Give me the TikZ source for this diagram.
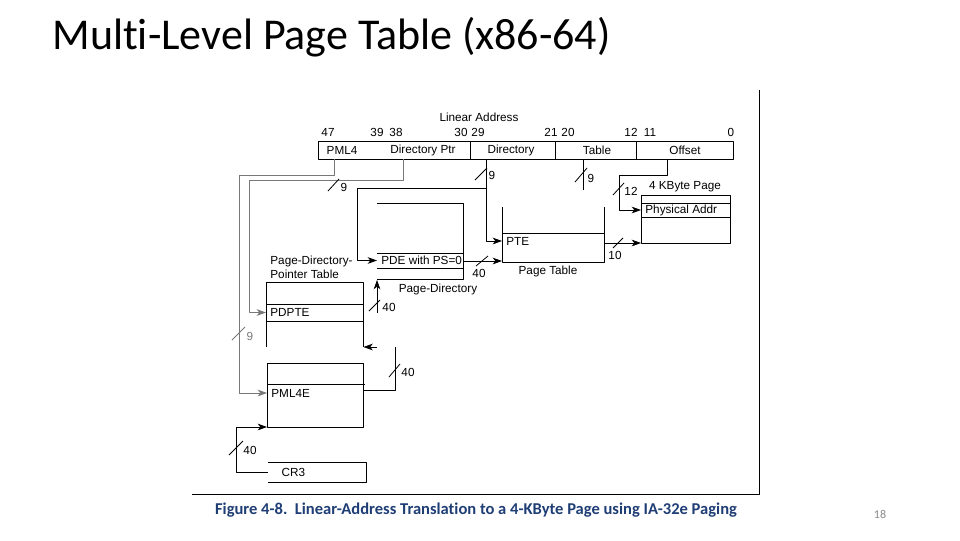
\documentclass[tikz,border=0pt]{standalone}
\usepackage{fontspec}
\setmainfont{Liberation Sans}
\newfontfamily\slidefont[Ligatures={NoCommon}]{Carlito}
\usetikzlibrary{arrows.meta}
\definecolor{capblue}{RGB}{31,62,117}
\definecolor{numgray}{RGB}{137,137,137}
\definecolor{wire}{RGB}{120,120,120}
\tikzset{
	ptr/.style={-{Stealth[length=7pt,width=5pt,inset=2pt]}},
	entry/.style={anchor=west, inner xsep=3pt, inner ysep=0pt},
	wlabel/.style={inner sep=0pt},
}
\begin{document}
\begin{tikzpicture}[x=0.75pt, y=-0.75pt, line width=0.6pt, font=\fontsize{8.8}{10}\selectfont, line join=round]
	\useasboundingbox (0,0) rectangle (960,540);
	% slide text
	\node[anchor=base west, inner sep=0pt, font=\slidefont\fontsize{33}{39}\selectfont] (title) at (52,49) {Multi-Level Page Table (x86-64)};
	\node[anchor=base, inner sep=0pt, text=capblue, font=\slidefont\bfseries\fontsize{12.4}{14}\selectfont] (caption) at (476,514) {Figure 4-8.\ \ Linear-Address Translation to a 4-KByte Page using IA-32e Paging};
	\node[anchor=base, inner sep=0pt, text=numgray, font=\slidefont\fontsize{9}{10}\selectfont] (pnum) at (880,518) {18};
	% frame of the figure
	\draw (192,494) -- (759,494) -- (759,90);
	% linear address
	\node (linaddr) at (479,117) {Linear Address};
	\foreach \b/\x in {47/328, 39/377, 38/396, 30/461, 29/478, 21/551, 20/568, 12/631, 11/650, 0/731}
		\node[inner sep=0pt] (b\b) at (\x,132) {\b};
	\draw (318,141) rectangle (733,159);
	\draw (470,141) -- (470,159) (555,141) -- (555,159) (636,141) -- (636,159);
	\node (pml4) at (342,150) {PML4};
	\node (dirptr) at (423,150) {Directory Ptr};
	\node (dir) at (511,150) {Directory};
	\node (tbl) at (597,150) {Table};
	\node (ofs) at (685,150) {Offset};
	\coordinate (tapA) at (334,159);
	\coordinate (tapB) at (403,159);
	\coordinate (tapC) at (486,159);
	\coordinate (tapD) at (583,159);
	\coordinate (tapE) at (667,159);
	% 4 KByte page
	\node (pglbl) at (685,187) {4 KByte Page};
	\draw (641,195) rectangle (730,243);
	\draw (641,203) -- (730,203) (641,217) -- (730,217);
	\node[entry] (phys) at (641,210) {Physical Addr};
	% page table
	\draw (502,207) -- (502,262) -- (604,262) -- (604,207);
	\draw (502,233) -- (604,233);
	\node[entry] (pte) at (502,241) {PTE};
	\node (ptlbl) at (548,271) {Page Table};
	% page directory
	\draw (377,203) -- (463,203) -- (463,279) -- (377,279);
	\draw (377,253) -- (463,253) (377,268) -- (463,268);
	\node[entry] (pde) at (377,260.5) {PDE with PS=0};
	\node (pdlbl) at (438,289) {Page-Directory};
	% page-directory-pointer table
	\node[anchor=west, align=left, inner xsep=3pt, inner ysep=0pt, font=\fontsize{8.8}{10.5}\selectfont] (pdptlbl) at (266,267) {Page-Directory-\\Pointer Table};
	\draw (266,347) -- (266,282) -- (363,282) -- (363,347);
	\draw (266,304) -- (363,304) (266,321) -- (363,321);
	\node[entry] (pdpte) at (266,312.5) {PDPTE};
	% PML4 table
	\draw (267,363) rectangle (363,427);
	\draw (267,384) -- (365,384);
	\node[entry] (pml4e) at (267,393) {PML4E};
	% CR3
	\draw (268,462) -- (366,462) -- (366,482) -- (268,482);
	\node[entry, inner xsep=10pt] (cr3) at (268,472.5) {CR3};
	% connectors
	\draw[ptr, wire] (tapA) -- (334,175) -- (239,175) -- (239,393) -- (pml4e.west);
	\draw[ptr, wire] (tapB) -- (403,180) -- (249,180) -- (249,312.5) -- (pdpte.west);
	\draw[ptr] (tapC) -- (486,241) -- (pte.west);
	\draw[ptr] (486,188) -- (357,188) -- (357,260.5) -- (pde.west);
	\draw (tapD) -- (583,190);
	\draw[ptr] (tapE) -- (667,175) -- (619,175) -- (619,210) -- (phys.west);
	\draw[ptr] (463,261) -- (502,261);
	\draw[ptr] (604,243) -- (641,243);
	\draw[ptr] (377,313) -- (377,280);
	\draw (363,390) -- (395,390) -- (395,347);
	\draw[ptr] (377,347) -- (363.5,347);
	\draw[ptr] (cr3.west) -- (236,472.5) -- (236,427) -- (267,427);
	% width marks
	\draw (328,191) -- (339,179);
	\node[wlabel] (w1) at (344,187) {9};
	\draw[wire] (232,340) -- (245,327);
	\node[wlabel, text=wire] (w2) at (250,336) {9};
	\draw (475,180) -- (487,168);
	\node[wlabel] (w3) at (492,175) {9};
	\draw (575,182) -- (587,168);
	\node[wlabel] (w4) at (591,178) {9};
	\draw (613,195) -- (624,183);
	\node[wlabel] (w5) at (631,191) {12};
	\draw (476,266) -- (488,256);
	\node[wlabel] (w6) at (479,273) {40};
	\draw (613,248) -- (623,238);
	\node[wlabel] (w7) at (615,255) {10};
	\draw (369,311) -- (380,300);
	\node[wlabel] (w8) at (389,307) {40};
	\draw (389,377) -- (400,364);
	\node[wlabel] (w9) at (408,372) {40};
	\draw (229,455) -- (243,441);
	\node[wlabel] (w10) at (250,450) {40};
\end{tikzpicture}
\end{document}
